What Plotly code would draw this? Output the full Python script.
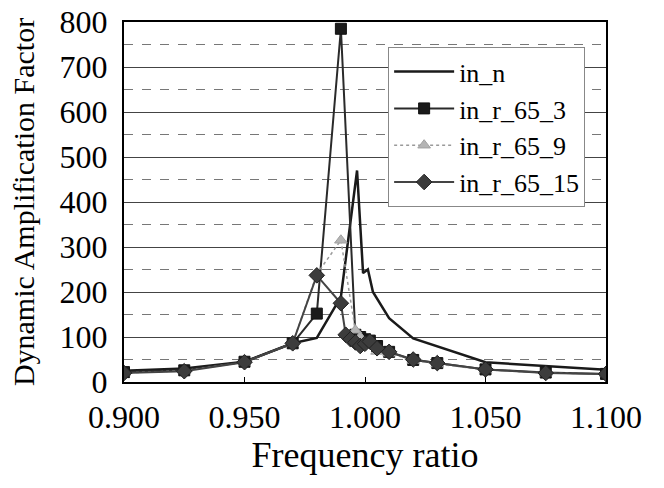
import plotly.graph_objects as go

# Data
x_n = [0.900, 0.925, 0.950, 0.970, 0.980, 0.990, 0.9967, 0.9992, 1.0012, 1.0033, 1.010, 1.020, 1.050, 1.075, 1.100]
y_n = [25, 30, 45, 86, 98, 189, 470, 242, 250, 200, 142, 97, 44, 36, 27]

x_r3 = [0.900, 0.925, 0.950, 0.970, 0.980, 0.990, 0.996, 0.998, 1.000, 1.002, 1.005, 1.010, 1.020, 1.030, 1.050, 1.075, 1.100]
y_r3 = [22, 26, 45, 86, 152, 785, 105, 100, 95, 92, 80, 67, 49, 42, 28, 21, 18]

x_r9 = [0.900, 0.925, 0.950, 0.970, 0.980, 0.990, 0.996, 0.998, 1.000, 1.002, 1.005, 1.010, 1.020, 1.030, 1.050, 1.075, 1.100]
y_r9 = [20, 25, 44, 86, 240, 315, 115, 100, 90, 85, 68, 64, 48, 40, 27, 20, 18]

x_r15 = [0.900, 0.925, 0.950, 0.970, 0.980, 0.990, 0.992, 0.994, 0.996, 0.998, 1.000, 1.002, 1.005, 1.010, 1.020, 1.030, 1.050, 1.075, 1.100]
y_r15 = [20, 24, 44, 86, 237, 175, 105, 95, 88, 80, 85, 90, 75, 67, 50, 42, 28, 20, 18]

x_ticks = [0.900, 0.950, 1.000, 1.050, 1.100]
x_tick_labels = ["0.900", "0.950", "1.000", "1.050", "1.100"]

FONT = "Liberation Serif"

fig = go.Figure()
fig.add_trace(go.Scatter(x=x_n, y=y_n, name="in_n", mode="lines",
                         line=dict(color="#1a1a1a", width=2.5), legendgroup="a"))
fig.add_trace(go.Scatter(x=x_r3, y=y_r3, name="in_r_65_3", mode="lines+markers",
                         line=dict(color="#2a2a2a", width=2),
                         marker=dict(symbol="square", size=11, color="#1a1a1a",
                                     line=dict(color="#111", width=1)), legendgroup="b"))
fig.add_trace(go.Scatter(x=x_r9, y=y_r9, name="in_r_65_9", mode="lines+markers",
                         line=dict(color="#9a9a9a", width=1.5, dash="dot"),
                         marker=dict(symbol="triangle-up", size=11, color="#b4b4b4",
                                     line=dict(color="#a0a0a0", width=1)), legendgroup="c"))
fig.add_trace(go.Scatter(x=x_r15, y=y_r15, name="in_r_65_15", mode="lines+markers",
                         line=dict(color="#444444", width=2),
                         marker=dict(symbol="diamond", size=12, color="#3c3c3c",
                                     line=dict(color="#222", width=1)), legendgroup="d"))

fig.update_layout(
    width=664, height=488,
    margin=dict(l=124, r=58, t=22, b=106, autoexpand=False),
    paper_bgcolor="white", plot_bgcolor="white",
    font=dict(family=FONT, color="black", size=22),
    legend=dict(x=0.548, y=0.93, xanchor="left", yanchor="top",
                bgcolor="white", bordercolor="#888", borderwidth=1,
                font=dict(family=FONT, size=26, color="black"),
                tracegroupgap=0, traceorder="grouped", itemwidth=60),
    showlegend=True,
)
fig.update_xaxes(
    range=[0.9, 1.1], tickvals=x_ticks, ticktext=x_tick_labels,
    showgrid=False, zeroline=False, automargin=False,
    showline=True, linecolor="black", linewidth=2, mirror=True,
    ticks="inside", ticklen=5, tickcolor="black",
    tickfont=dict(family=FONT, size=32), ticklabelstandoff=6,
    title=dict(text="Frequency ratio", font=dict(family=FONT, size=36), standoff=4),
)
fig.update_yaxes(
    range=[0, 800], dtick=100,
    showgrid=True, gridcolor="#444", gridwidth=1,
    minor=dict(dtick=50, showgrid=True, gridcolor="#777", griddash="dash", gridwidth=1),
    zeroline=False, automargin=False,
    showline=True, linecolor="black", linewidth=2, mirror=True,
    ticks="", tickfont=dict(family=FONT, size=32), ticklabelstandoff=8,
    title=dict(text="Dynamic Amplification Factor", font=dict(family=FONT, size=30), standoff=16),
)

fig.write_html("out.html")
